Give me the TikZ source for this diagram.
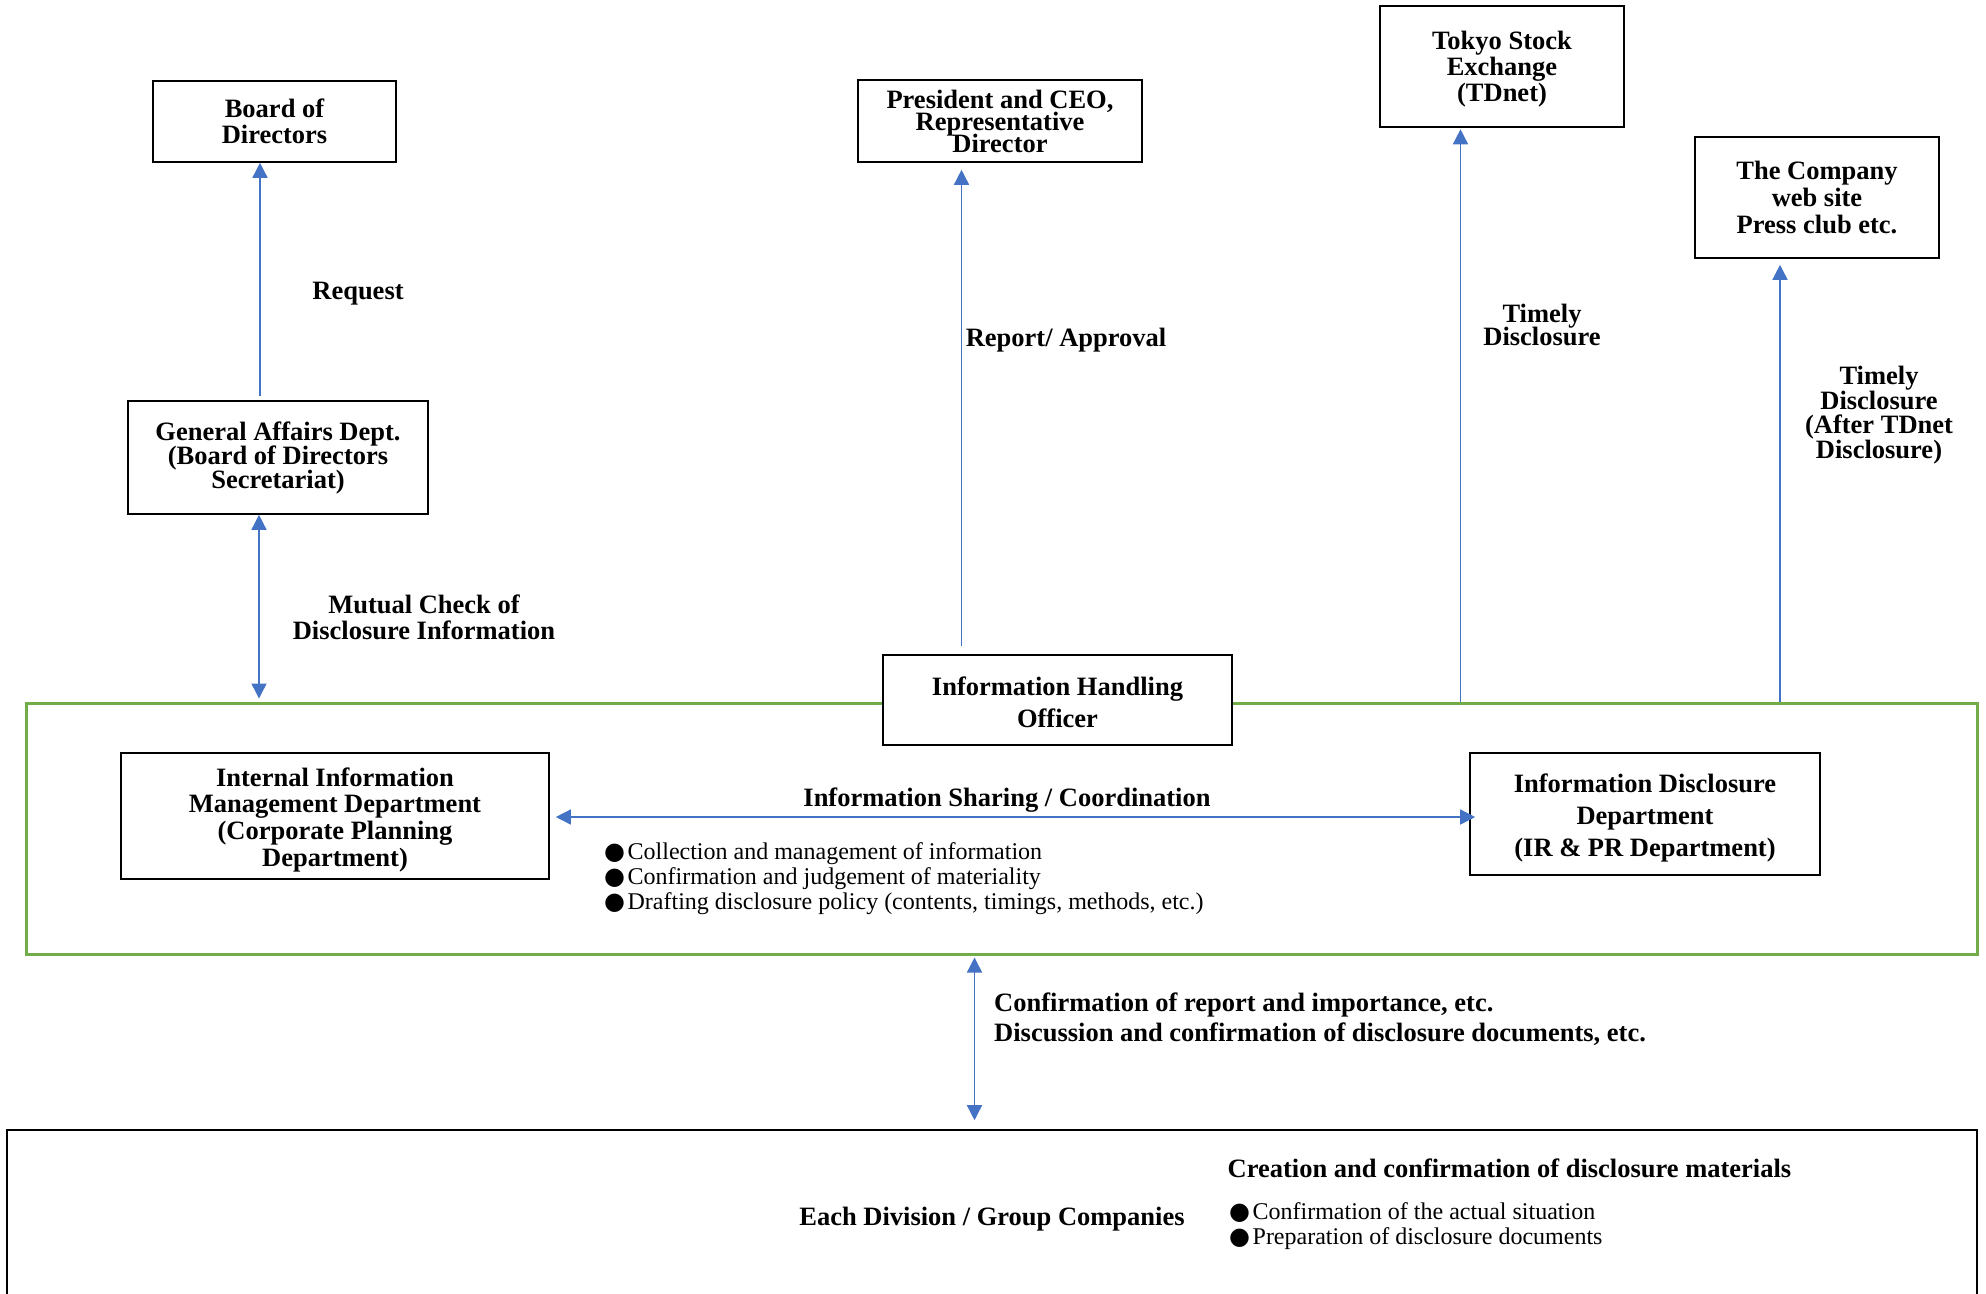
\documentclass[tikz,border=0pt]{standalone}
\usepackage{fontspec}
\setmainfont{Liberation Serif}
\newfontfamily\symfont{DejaVu Sans}
\usetikzlibrary{arrows.meta}
\definecolor{arrowblue}{HTML}{4472C4}
\definecolor{framegreen}{HTML}{70AD47}
\lineskiplimit=-100pt\relax
\newcommand{\bfsz}[1]{\bfseries\fontsize{26.5}{#1}\selectfont}
\newcommand{\rmtxt}{\fontsize{24}{25}\selectfont}
\newcommand{\blt}{{\symfont ●}\hspace{2.5pt}}
\newcommand{\dn}[1]{\rule{0pt}{#1}}
\tikzset{
  box/.style={draw=black, line width=1.6pt, fill=white, inner sep=0pt, align=center, font=\bfsz{26}},
  lbl/.style={inner sep=0pt, align=center, font=\bfsz{26}},
  txt/.style={inner sep=0pt, align=left, anchor=west, font=\rmtxt},
  conn/.style={draw=arrowblue, line width=1.5pt},
  onehead/.style={conn, -{Triangle[length=15pt,width=15pt]}},
  twohead/.style={conn, {Triangle[length=15pt,width=15pt]}-{Triangle[length=15pt,width=15pt]}},
}
\begin{document}
\begin{tikzpicture}[x=1pt, y=-1pt]
\useasboundingbox (0,0) rectangle (1986,1293);

% frames
\node[draw=framegreen, line width=3pt, minimum width=1951pt, minimum height=251pt, inner sep=0pt] (core) at (1001.5,828.5) {};
\node[draw=black, line width=1.6pt, minimum width=1970pt, minimum height=170pt, inner sep=0pt] (divs) at (992,1215) {};

% boxes
\node[box, minimum width=243pt, minimum height=81pt] (board) at (274.5,121.5) {Board of\\Directors};
\node[box, minimum width=284pt, minimum height=82pt, font=\bfsz{22}] (pres) at (1000,121) {President and CEO,\\Representative\\Director};
\node[box, minimum width=244pt, minimum height=121pt] (tse) at (1502,66.5) {\dn{24pt}Tokyo Stock\\Exchange\\(TDnet)};
\node[box, minimum width=244pt, minimum height=121pt, font=\bfsz{26.7}] (web) at (1817,197.5) {The Company\\web site\\Press club etc.};
\node[box, minimum width=300pt, minimum height=113pt, font=\bfsz{24.3}] (gen) at (278,457.5) {\dn{20pt}General Affairs Dept.\\(Board of Directors\\Secretariat)};
\node[box, minimum width=349pt, minimum height=90pt, font=\bfsz{31.5}] (iho) at (1057.5,700) {\dn{23pt}Information Handling\\Officer};
\node[box, minimum width=428pt, minimum height=126pt, font=\bfsz{26.7}] (iim) at (335,816) {\dn{26pt}Internal Information\\Management Department\\(Corporate Planning\\Department)};
\node[box, minimum width=350pt, minimum height=122pt, font=\bfsz{32}] (idd) at (1645,814) {\dn{26pt}Information Disclosure\\Department\\(IR \& PR Department)};

% connectors
\draw[onehead] ([xshift=-18pt, yshift=4pt]gen.north) -- ([xshift=-14.5pt]board.south);
\draw[twohead] ([xshift=-19pt]gen.south) -- ([xshift=-19pt, yshift=3pt]gen.south |- core.north);
\draw[onehead] ([xshift=-96pt, yshift=8pt]iho.north) -- ([xshift=-38.5pt, yshift=-7pt]pres.south);
\draw[onehead] ([xshift=-41.5pt]tse.south |- core.north) -- ([xshift=-41.5pt, yshift=-1.5pt]tse.south);
\draw[onehead] ([xshift=-37pt]web.south |- core.north) -- ([xshift=-37pt, yshift=-6pt]web.south);
\draw[twohead] ([xshift=6pt, yshift=-1pt]iim.east) -- ([xshift=6pt, yshift=-3pt]idd.west);
\draw[twohead] ([xshift=-27pt, yshift=-2pt]core.south) -- ([xshift=-17.5pt, yshift=9pt]divs.north);

% labels
\node[lbl] (lreq) at (358,294) {Request};
\node[lbl] (lmut) at (424,617) {Mutual Check of\\Disclosure Information};
\node[lbl, anchor=west] (lrep) at (965.6,340) {Report/ Approval};
\node[lbl, font=\bfsz{22.5}] (ltd1) at (1542,325) {Timely\\Disclosure};
\node[lbl, font=\bfsz{24.5}] (ltd2) at (1879,415) {Timely\\Disclosure\\(After TDnet\\Disclosure)};
\node[lbl] (lshare) at (1007,800) {Information Sharing / Coordination};
\node[txt] (tasks) at (604,878.5) {\blt Collection and management of information\\\blt Confirmation and judgement of materiality\\\blt Drafting disclosure policy (contents, timings, methods, etc.)};
\node[lbl, anchor=west, align=left, font=\bfsz{30}] (lconf) at (994,1019) {Confirmation of report and importance, etc.\\Discussion and confirmation of disclosure documents, etc.};
\node[lbl] (ldiv) at (992,1219) {Each Division / Group Companies};
\node[lbl, anchor=west] (lcre) at (1227.5,1168) {Creation and confirmation of disclosure materials};
\node[txt] (tasks2) at (1229,1226) {\blt Confirmation of the actual situation\\\blt Preparation of disclosure documents};
\end{tikzpicture}
\end{document}
